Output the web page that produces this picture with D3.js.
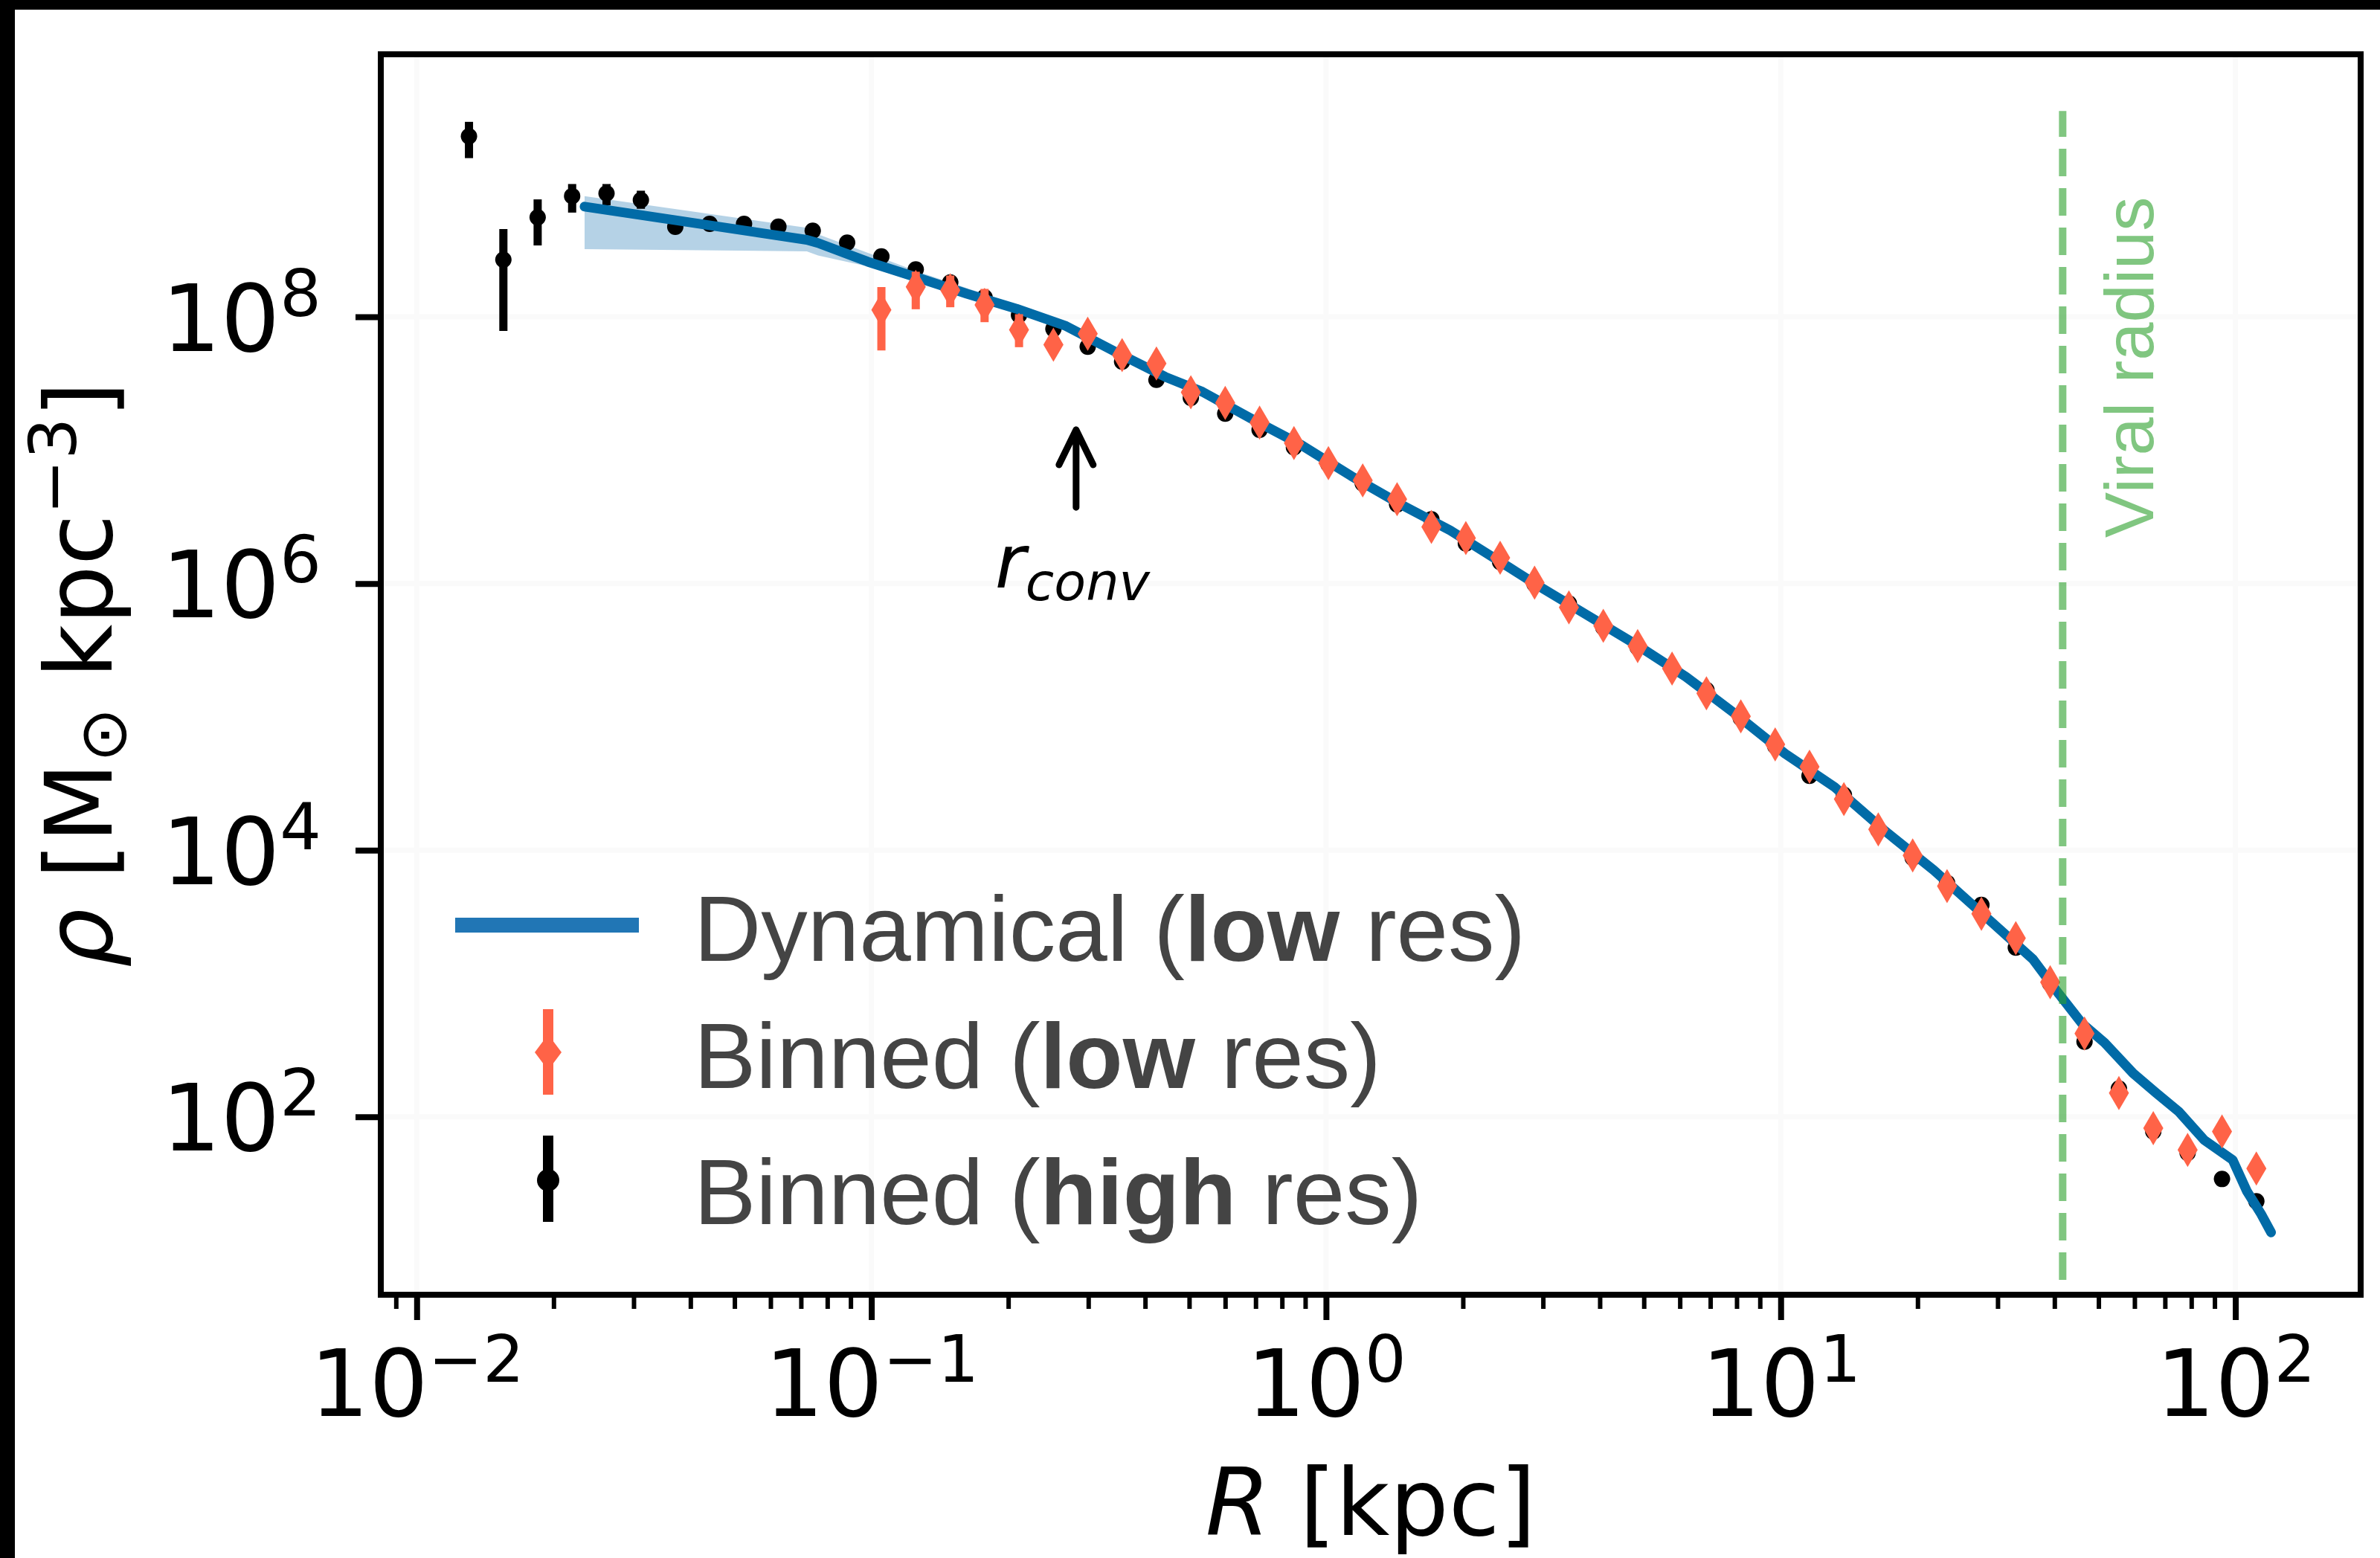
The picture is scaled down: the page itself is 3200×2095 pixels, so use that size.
<!DOCTYPE html>
<html>
<head>
<meta charset="utf-8">
<script src="https://cdn.jsdelivr.net/npm/d3@7"></script>
<style>
  body { margin: 0; background: #fff; }
  svg { display: block; }
  .tick text { font-family: "DejaVu Sans", sans-serif; font-size: 125px; fill: #000; }
  .axis-label { font-family: "DejaVu Sans", sans-serif; font-size: 125px; fill: #000; }
  .legend-text { font-family: "Liberation Sans", Arial, sans-serif; font-size: 125px; fill: #444; }
</style>
</head>
<body>
<svg id="chart" width="3200" height="2095"></svg>
<script>
// bin centres shared by both binned profiles (kpc)
const radiusBins = [0.01303, 0.01551, 0.01845, 0.02197, 0.02615, 0.03112, 0.03704, 0.04408, 0.05247, 0.06245,
  0.0743, 0.08845, 0.1052, 0.1252, 0.1491, 0.1774, 0.2112, 0.2514, 0.2991, 0.356,
  0.4236, 0.5042, 0.6001, 0.7142, 0.85, 1.012, 1.204, 1.433, 1.705, 2.03,
  2.415, 2.875, 3.421, 4.072, 4.846, 5.768, 6.865, 8.17, 9.723, 11.57,
  13.77, 16.39, 19.51, 23.22, 27.63, 32.89, 39.14, 46.58, 55.44, 65.98,
  78.52, 93.45, 111.2];

// binned density, high res run (Msun / kpc^3)
const rhoHighRes = [2.26e9, 2.68e8, 5.58e8, 8.05e8, 8.43e8, 7.52e8, 4.73e8, 4.98e8, 4.98e8, 4.75e8,
  4.42e8, 3.60e8, 2.84e8, 2.27e8, 1.81e8, 1.40e8, 1.03e8, 8.11e7, 5.97e7, 4.61e7,
  3.37e7, 2.47e7, 1.88e7, 1.42e7, 1.05e7, 7.85e6, 5.64e6, 3.92e6, 3.03e6, 2.00e6,
  1.45e6, 9.89e5, 7.08e5, 4.68e5, 3.31e5, 2.29e5, 1.59e5, 9.77e4, 6.03e4, 3.61e4,
  2.60e4, 1.41e4, 8.77e3, 5.69e3, 3.89e3, 1.86e3, 1.00e3, 366, 163, 77.6,
  53.7, 34.2, 23.3];
// error bars of the innermost bins (the others are hidden by the markers)
const rhoHighResLo = [1.55e9, 7.83e7, 3.43e8, 6.05e8, 6.87e8, 6.46e8];
const rhoHighResHi = [2.90e9, 4.55e8, 7.60e8, 9.91e8, 9.91e8, 8.83e8];

// binned density, low res run
const rhoLowRes = [null, null, null, null, null, null, null, null, null, null,
  null, null, 1.125e8, 1.68e8, 1.585e8, 1.23e8, 7.98e7, 6.19e7, 7.46e7, 5.16e7,
  4.47e7, 2.72e7, 2.26e7, 1.61e7, 1.13e7, 8.0e6, 5.93e6, 4.29e6, 2.66e6, 2.19e6,
  1.56e6, 1.016e6, 6.61e5, 4.81e5, 3.39e5, 2.30e5, 1.50e5, 1.009e5, 6.22e4, 4.23e4,
  2.42e4, 1.43e4, 9.14e3, 5.38e3, 3.33e3, 2.19e3, 1.023e3, 422, 151, 82.4,
  56.5, 77.6, 41.0];
const rhoLowResLo = [null, null, null, null, null, null, null, null, null, null,
  null, null, 5.60e7, 1.14e8, 1.18e8, 9.12e7, 5.92e7];
const rhoLowResHi = [null, null, null, null, null, null, null, null, null, null,
  null, null, 1.675e8, 2.18e8, 2.04e8, 1.62e8, 1.047e8];

// dynamical estimate (low res) and its uncertainty band
const dynR = [0.0234, 0.0721, 0.0763, 0.0982, 0.1262, 0.1622, 0.2086, 0.268, 0.3445, 0.4428,
  0.5348, 0.6874, 0.8835, 1.136, 1.46, 1.876, 2.413, 2.912, 3.743, 4.812,
  6.185, 7.951, 10.22, 13.14, 16.89, 21.71, 27.92, 35.88, 40.95, 45.95,
  51.56, 59.59, 66.83, 74.98, 85.41, 98.63, 106.0, 113.9, 119.8];
const dynRho = [6.71e8, 3.78e8, 3.58e8, 2.59e8, 1.97e8, 1.49e8, 1.15e8, 8.53e7, 5.45e7, 3.55e7,
  2.74e7, 1.71e7, 1.09e7, 6.40e6, 3.92e6, 2.50e6, 1.46e6, 9.73e5, 5.82e5, 3.48e5,
  2.00e5, 1.05e5, 5.30e4, 2.97e4, 1.41e4, 7.08e3, 3.28e3, 1.52e3, 832, 504,
  360, 212, 152, 110, 67.0, 47.5, 27.7, 18.7, 13.6];
const bandR = [0.0234, 0.0721, 0.0763, 0.0982, 0.1262, 0.2086, 0.268, 0.3445];
const bandLo = [3.22e8, 3.10e8, 2.89e8, 2.39e8, 1.81e8, 1.08e8, 8.15e7, 5.25e7];
const bandHi = [8.05e8, 4.65e8, 4.16e8, 3.02e8, 2.19e8, 1.23e8, 8.93e7, 5.65e7];

const virialRadius = 41.7;
const virialSpan = [6.0, 3.5e9];
const rConv = 0.282;

const xTickPowers = [-2, -1, 0, 1, 2];
const yTickPowers = [2, 4, 6, 8];
const legendLabels = [
  ["Dynamical (", "low", " res)"],
  ["Binned (", "low", " res)"],
  ["Binned (", "high", " res)"]
];

const svg = d3.select("#chart"),
  margin = { top: 73, right: 26, bottom: 354, left: 512 },
  width = +svg.attr("width") - margin.left - margin.right,
  height = +svg.attr("height") - margin.top - margin.bottom;

svg.append("rect").attr("width", 3200).attr("height", 2095).attr("fill", "#fff");
// dark strips left over from the figure crop
svg.append("rect").attr("width", 20).attr("height", 2095).attr("fill", "#000");
svg.append("rect").attr("width", 3200).attr("height", 13).attr("fill", "#000");

const x = d3.scaleLog().domain([0.008337, 188.6]).range([0, width]);
const y = d3.scaleLog().domain([4.634, 9.312e9]).range([height, 0]);

const g = svg.append("g")
  .attr("transform", `translate(${margin.left},${margin.top})`);

// faint grid
g.append("g").selectAll("line")
  .data(xTickPowers.map(p => Math.pow(10, p)))
  .enter().append("line")
  .attr("x1", d => x(d)).attr("x2", d => x(d))
  .attr("y1", 0).attr("y2", height)
  .attr("stroke", "#fafafa").attr("stroke-width", 7);
g.append("g").selectAll("line")
  .data(yTickPowers.map(p => Math.pow(10, p)))
  .enter().append("line")
  .attr("y1", d => y(d)).attr("y2", d => y(d))
  .attr("x1", 0).attr("x2", width)
  .attr("stroke", "#fafafa").attr("stroke-width", 7);

// uncertainty band
const band = bandR.map((r, i) => ({ r, lo: bandLo[i], hi: bandHi[i] }));
g.append("path")
  .datum(band)
  .attr("fill", "#1f77b4")
  .attr("fill-opacity", 0.33)
  .attr("d", d3.area().x(d => x(d.r)).y0(d => y(d.lo)).y1(d => y(d.hi)));

// high res bins
const high = radiusBins.map((r, i) => ({ r, rho: rhoHighRes[i], lo: rhoHighResLo[i], hi: rhoHighResHi[i] }));
g.append("g").selectAll("line")
  .data(high.filter(d => d.lo != null))
  .enter().append("line")
  .attr("x1", d => x(d.r)).attr("x2", d => x(d.r))
  .attr("y1", d => y(d.lo)).attr("y2", d => y(d.hi))
  .attr("stroke", "#000").attr("stroke-width", 11);
g.append("g").selectAll("circle")
  .data(high)
  .enter().append("circle")
  .attr("cx", d => x(d.r)).attr("cy", d => y(d.rho))
  .attr("r", 11).attr("fill", "#000");

// dynamical profile
const dyn = dynR.map((r, i) => ({ r, rho: dynRho[i] }));
g.append("path")
  .datum(dyn)
  .attr("fill", "none")
  .attr("stroke", "#016ba7")
  .attr("stroke-width", 13)
  .attr("stroke-linejoin", "round")
  .attr("stroke-linecap", "round")
  .attr("d", d3.line().x(d => x(d.r)).y(d => y(d.rho)));

// low res bins
const diamond = "M0,-23L13.5,0L0,23L-13.5,0Z";
const low = radiusBins.map((r, i) => ({ r, rho: rhoLowRes[i], lo: rhoLowResLo[i], hi: rhoLowResHi[i] }))
  .filter(d => d.rho != null);
g.append("g").selectAll("line")
  .data(low.filter(d => d.lo != null))
  .enter().append("line")
  .attr("x1", d => x(d.r)).attr("x2", d => x(d.r))
  .attr("y1", d => y(d.lo)).attr("y2", d => y(d.hi))
  .attr("stroke", "#ff6347").attr("stroke-width", 11);
g.append("g").selectAll("path")
  .data(low)
  .enter().append("path")
  .attr("d", diamond)
  .attr("transform", d => `translate(${x(d.r)},${y(d.rho)})`)
  .attr("fill", "#ff6347");

// virial radius marker
g.append("line")
  .attr("x1", x(virialRadius)).attr("x2", x(virialRadius))
  .attr("y1", y(virialSpan[0])).attr("y2", y(virialSpan[1]))
  .attr("stroke", "#2ca02c").attr("stroke-opacity", 0.6)
  .attr("stroke-width", 10).attr("stroke-dasharray", "37,16");
g.append("text")
  .attr("transform", `translate(${x(virialRadius) + 122},${y(2.2e6)}) rotate(-90)`)
  .attr("font-family", "Liberation Sans, Arial, sans-serif")
  .attr("font-size", 92)
  .attr("fill", "#2ca02c").attr("fill-opacity", 0.6)
  .text("Viral radius");

// convergence radius arrow
const ax = x(rConv), tipY = y(1.42e7), tailY = y(3.73e6);
g.append("path")
  .attr("d", `M${ax},${tailY}L${ax},${tipY}M${ax - 23},${tipY + 47}L${ax},${tipY}L${ax + 23},${tipY + 47}`)
  .attr("fill", "none").attr("stroke", "#000").attr("stroke-width", 9)
  .attr("stroke-linecap", "round").attr("stroke-linejoin", "round");
const rc = g.append("text")
  .attr("x", ax - 5).attr("y", y(9.33e5))
  .attr("text-anchor", "middle")
  .attr("font-family", "DejaVu Sans, sans-serif")
  .attr("font-style", "italic")
  .attr("font-size", 100);
rc.append("tspan").text("r");
rc.append("tspan").attr("font-size", 70).attr("dy", 17).text("conv");

// axes
const xMinor = [];
d3.range(-3, 3).forEach(p => d3.range(2, 10).forEach(k => {
  const v = k * Math.pow(10, p);
  if (v > x.domain()[0] && v < x.domain()[1]) xMinor.push(v);
}));

g.append("g")
  .attr("transform", `translate(0,${height})`)
  .call(d3.axisBottom(x).tickValues(xMinor).tickSize(19).tickFormat(""))
  .call(a => a.select(".domain").remove())
  .call(a => a.selectAll(".tick line").attr("stroke-width", 6));

const xAxis = g.append("g")
  .attr("transform", `translate(0,${height})`)
  .call(d3.axisBottom(x).tickValues(xTickPowers.map(p => Math.pow(10, p))).tickSize(34))
  .call(a => a.select(".domain").remove())
  .call(a => a.selectAll(".tick line").attr("stroke-width", 8));
xAxis.selectAll(".tick text")
  .attr("y", 163).attr("dy", null)
  .text(null)
  .each(function (d) {
    const t = d3.select(this);
    t.append("tspan").text("10");
    t.append("tspan").attr("font-size", 87.5).attr("dy", -46)
      .text(String(Math.round(Math.log10(d))).replace("-", "\u2212"));
  });

const yAxis = g.append("g")
  .call(d3.axisLeft(y).tickValues(yTickPowers.map(p => Math.pow(10, p))).tickSize(34))
  .call(a => a.select(".domain").remove())
  .call(a => a.selectAll(".tick line").attr("stroke-width", 8));
yAxis.selectAll(".tick text")
  .attr("x", -80).attr("y", 45).attr("dy", null)
  .text(null)
  .each(function (d) {
    const t = d3.select(this);
    t.append("tspan").text("10");
    t.append("tspan").attr("font-size", 87.5).attr("dy", -47)
      .text(String(Math.round(Math.log10(d))));
  });

// frame
g.append("rect")
  .attr("width", width).attr("height", height)
  .attr("fill", "none").attr("stroke", "#000").attr("stroke-width", 8);

// axis labels
const xl = svg.append("text").attr("class", "axis-label")
  .attr("x", margin.left + width / 2).attr("y", 2064)
  .attr("text-anchor", "middle");
xl.append("tspan").attr("font-style", "italic").text("R");
xl.append("tspan").text(" [kpc]");

const yl = svg.append("text").attr("class", "axis-label")
  .attr("transform", `translate(150,${margin.top + height / 2}) rotate(-90)`)
  .attr("text-anchor", "middle");
yl.append("tspan").attr("font-style", "italic").text("\u03c1");
yl.append("tspan").text(" [M");
yl.append("tspan").attr("font-size", 88).attr("dy", 19).text("\u2299");
yl.append("tspan").attr("dy", -19).text(" kpc");
yl.append("tspan").attr("font-size", 88).attr("dy", -48).text("\u22123");
yl.append("tspan").attr("dy", 48).text("]");

// legend
const legend = svg.append("g");
const rowY = [1292, 1463, 1646];
legend.append("line")
  .attr("x1", 612).attr("x2", 859).attr("y1", 1244).attr("y2", 1244)
  .attr("stroke", "#2176b5").attr("stroke-width", 20);
legend.append("line")
  .attr("x1", 737).attr("x2", 737).attr("y1", 1357).attr("y2", 1472)
  .attr("stroke", "#ff6347").attr("stroke-width", 14);
legend.append("path")
  .attr("d", "M0,-24L18,0L0,24L-18,0Z")
  .attr("transform", "translate(737,1415)")
  .attr("fill", "#ff6347");
legend.append("line")
  .attr("x1", 737).attr("x2", 737).attr("y1", 1527).attr("y2", 1643)
  .attr("stroke", "#000").attr("stroke-width", 14);
legend.append("circle")
  .attr("cx", 737).attr("cy", 1587).attr("r", 15).attr("fill", "#000");

legendLabels.forEach((parts, i) => {
  const t = legend.append("text").attr("class", "legend-text")
    .attr("x", 933).attr("y", rowY[i]);
  t.append("tspan").text(parts[0]);
  t.append("tspan").attr("font-weight", "bold").text(parts[1]);
  t.append("tspan").text(parts[2]);
});
</script>
</body>
</html>
